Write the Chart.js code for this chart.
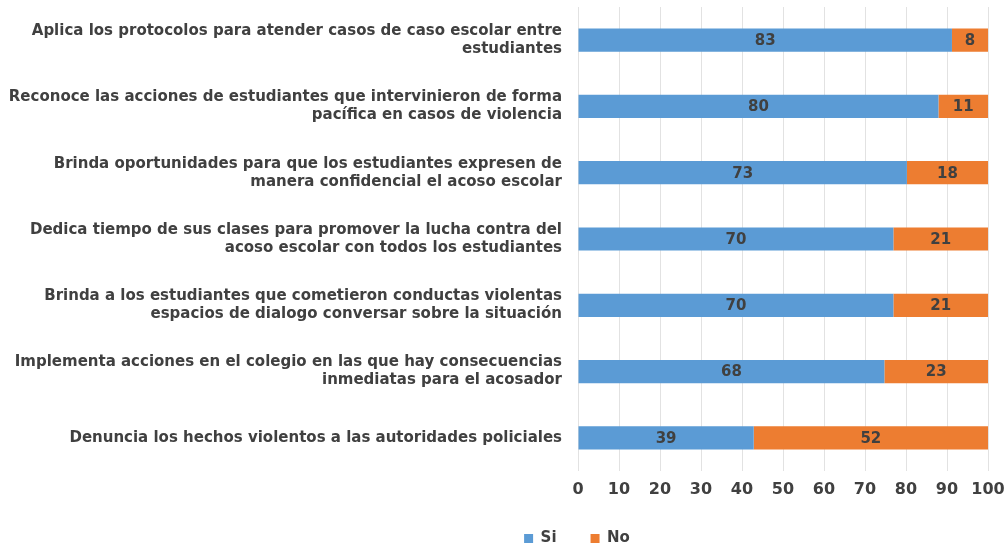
<!DOCTYPE html>
<html>
<head>
<meta charset="utf-8">
<script src="https://cdn.jsdelivr.net/npm/chart.js@4/dist/chart.umd.min.js"></script>
<style>
  html, body { margin: 0; padding: 0; background: #fff; }
  #wrap { width: 1008px; height: 544px; }
</style>
</head>
<body>
<div id="wrap"><canvas id="chart"></canvas></div>
<script>
// Preguntas (cada una en dos líneas como en la encuesta)
const categories = [
  ['Aplica los protocolos para atender casos de caso escolar entre', 'estudiantes'],
  ['Reconoce las acciones de estudiantes que intervinieron de forma', 'pacífica en casos de violencia'],
  ['Brinda oportunidades para que los estudiantes expresen de', 'manera confidencial el acoso escolar'],
  ['Dedica tiempo de sus clases para promover la lucha contra del', 'acoso escolar con todos los estudiantes'],
  ['Brinda a los estudiantes que cometieron conductas violentas', 'espacios de dialogo conversar sobre la situación'],
  ['Implementa acciones en el colegio en las que hay consecuencias', 'inmediatas para el acosador'],
  ['Denuncia los hechos violentos a las autoridades policiales']
];
const siValues = [83, 80, 73, 70, 70, 68, 39];
const noValues = [8, 11, 18, 21, 21, 23, 52];
const xTicks = [0, 10, 20, 30, 40, 50, 60, 70, 80, 90, 100];

// Barras al 100%: cada respuesta como porcentaje del total de la fila
const totals = siValues.map((v, i) => v + noValues[i]);
const siShare = siValues.map((v, i) => v / totals[i] * 100);
const noShare = noValues.map((v, i) => v / totals[i] * 100);

const textColor = '#404040';
const fontFamily = '"DejaVu Sans", sans-serif';

// Escribe el número real dentro de cada tramo de barra
const valueLabels = {
  id: 'valueLabels',
  afterDatasetsDraw(chart) {
    const ctx = chart.ctx;
    const raw = [siValues, noValues];
    ctx.save();
    ctx.font = 'bold 15px ' + fontFamily;
    ctx.fillStyle = textColor;
    ctx.textAlign = 'center';
    ctx.textBaseline = 'middle';
    chart.data.datasets.forEach((ds, d) => {
      chart.getDatasetMeta(d).data.forEach((bar, i) => {
        const cx = (bar.x + bar.base) / 2;
        ctx.fillText(String(raw[d][i]), cx, bar.y + 1);
      });
    });
    ctx.restore();
  }
};

// La leyenda va un poco a la derecha del centro del lienzo
const legendShift = {
  id: 'legendShift',
  afterLayout(chart) {
    if (chart.legend) chart.legend.left = 166;
  }
};

const config = {
  type: 'bar',
  data: {
    labels: categories,
    datasets: [
      { label: 'Si', data: siShare, backgroundColor: '#5B9BD5', borderWidth: 0 },
      { label: 'No', data: noShare, backgroundColor: '#ED7D31', borderWidth: 0 }
    ]
  },
  options: {
    indexAxis: 'y',
    responsive: true,
    maintainAspectRatio: false,
    animation: false,
    layout: { padding: { top: 7, right: 20, left: 0, bottom: 0 } },
    datasets: { bar: { categoryPercentage: 0.7, barPercentage: 0.5 } },
    scales: {
      x: {
        stacked: true,
        min: 0,
        max: 100,
        afterBuildTicks(scale) { scale.ticks = xTicks.map(v => ({ value: v })); },
        afterFit(scale) { scale.paddingRight = 0; scale.paddingLeft = 0; scale.height = 26; },
        grid: { color: '#e2e2e2', drawTicks: false },
        border: { display: false },
        ticks: { color: textColor, maxRotation: 0, font: { family: fontFamily, size: 16, weight: 'bold' }, padding: 9 }
      },
      y: {
        stacked: true,
        grid: { display: false },
        border: { display: false },
        afterFit(scale) { scale.width = 578; scale.paddingTop = 0; scale.paddingBottom = 0; },
        ticks: {
          color: textColor,
          padding: 8,
          font: { family: fontFamily, size: 15, weight: 'bold', lineHeight: 1.2 }
        }
      }
    },
    plugins: {
      legend: {
        position: 'bottom',
        maxHeight: 47,
        labels: {
          color: textColor,
          usePointStyle: true,
          pointStyle: 'rect',
          boxWidth: 9,
          boxHeight: 9,
          padding: 34,
          font: { family: fontFamily, size: 15, weight: 'bold' }
        }
      },
      tooltip: { enabled: false }
    }
  },
  plugins: [valueLabels, legendShift]
};

const chart = new Chart(document.getElementById('chart').getContext('2d'), config);
</script>
</body>
</html>
